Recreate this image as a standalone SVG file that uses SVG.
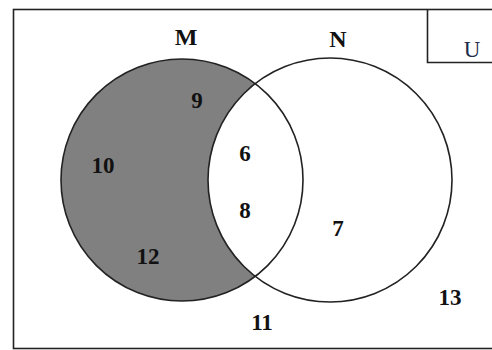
<svg xmlns="http://www.w3.org/2000/svg" width="492" height="350" viewBox="0 0 492 350">
<style>
.b{fill:none;stroke:#222;stroke-width:1.6}
.t{font-family:"Liberation Serif",serif;font-weight:bold;font-size:23px;fill:#111;text-anchor:middle}
</style>
<rect x="0" y="0" width="492" height="350" fill="#fff"/>
<g id="universe">
<rect class="b" x="13.5" y="9.5" width="490" height="339"/>
<path class="b" d="M427.5,9.5 V62.5 H495"/>
<text x="472" y="57" style="font-family:'Liberation Serif',serif;font-size:23px;fill:#1c2c4c;text-anchor:middle">U</text>
</g>
<g id="shaded">
<path d="M255.2,83.6 A121,121 0 1 0 255.2,276.4 A122,122 0 0 1 255.2,83.6 Z" fill="#808080"/>
</g>
<g id="M">
<circle class="b" cx="182" cy="180" r="121"/>
<text class="t" x="186" y="45" style="font-size:24px">M</text>
</g>
<g id="N">
<circle class="b" cx="330" cy="180" r="122"/>
<text class="t" x="338" y="47" style="font-size:24px">N</text>
</g>
<g id="labels">
<text class="t" x="197" y="108">9</text>
<text class="t" x="103" y="173">10</text>
<text class="t" x="148" y="264">12</text>
<text class="t" x="245" y="161">6</text>
<text class="t" x="245" y="218">8</text>
<text class="t" x="338" y="236">7</text>
<text class="t" x="262" y="330">11</text>
<text class="t" x="450" y="305">13</text>
</g>
<g id="connectors"/>
</svg>
